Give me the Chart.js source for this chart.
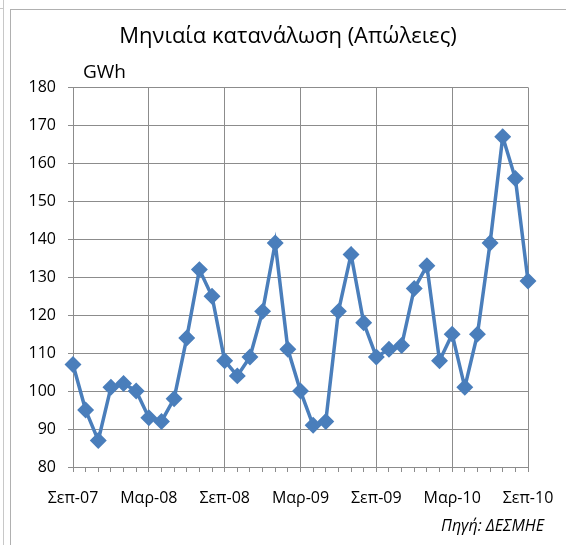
<!DOCTYPE html>
<html>
<head>
<meta charset="utf-8">
<script src="https://cdn.jsdelivr.net/npm/chart.js@4/dist/chart.umd.min.js"></script>
<style>
  html, body { margin: 0; padding: 0; background: #fff; }
  #wrap { position: relative; width: 566px; height: 545px; }
  #frame { position: absolute; left: 10px; top: 9px; width: 600px; height: 600px; border: 1px solid #b0b0b0; box-sizing: border-box; }
  #edge { position: absolute; left: 3px; top: 0; width: 1px; height: 545px; background: #c8c8c8; }
  #edgetop { position: absolute; left: 0; top: 8px; width: 4px; height: 1px; background: #c8c8c8; }
</style>
</head>
<body>
<div id="wrap">
  <div id="edge"></div>
  <div id="edgetop"></div>
  <div id="frame"></div>
  <canvas id="canvas1" width="566" height="545" style="position:absolute;left:0;top:0"></canvas>
</div>
<script>
// months Sep-07 .. Sep-10
const months = [
    'Σεπ-07','Οκτ-07','Νοε-07','Δεκ-07','Ιαν-08','Φεβ-08',
    'Μαρ-08','Απρ-08','Μαϊ-08','Ιουν-08','Ιουλ-08','Αυγ-08',
    'Σεπ-08','Οκτ-08','Νοε-08','Δεκ-08','Ιαν-09','Φεβ-09',
    'Μαρ-09','Απρ-09','Μαϊ-09','Ιουν-09','Ιουλ-09','Αυγ-09',
    'Σεπ-09','Οκτ-09','Νοε-09','Δεκ-09','Ιαν-10','Φεβ-10',
    'Μαρ-10','Απρ-10','Μαϊ-10','Ιουν-10','Ιουλ-10','Αυγ-10',
    'Σεπ-10'
];
const losses = [
    107, 95, 87, 101, 102, 100,
    93, 92, 98, 114, 132, 125,
    108, 104, 109, 121, 139, 111,
    100, 91, 92, 121, 136, 118,
    109, 111, 112, 127, 133, 108,
    115, 101, 115, 139, 167, 156,
    129
];
const yTicks = [80, 90, 100, 110, 120, 130, 140, 150, 160, 170, 180];

const FONT = "'Open Sans', sans-serif";
const GRID = '#8c8c8c';

const extraText = {
    id: 'extraText',
    afterDraw(chart) {
        const ctx = chart.ctx;
        const area = chart.chartArea;
        ctx.save();
        ctx.fillStyle = '#000';
        ctx.font = '19px ' + FONT;
        ctx.textBaseline = 'middle';
        ctx.textAlign = 'left';
        ctx.fillText('GWh', area.left + 10, 73);
        ctx.font = 'italic 16px ' + FONT;
        ctx.textAlign = 'right';
        ctx.fillText('Πηγή: ΔΕΣΜΗΕ', 544, 526);
        ctx.restore();
    }
};

const config = {
    type: 'line',
    data: {
        labels: months,
        datasets: [{
            label: 'Απώλειες',
            data: losses,
            borderColor: '#4a7ebb',
            backgroundColor: '#4a7ebb',
            borderWidth: 3.5,
            pointStyle: 'rectRot',
            pointRadius: 6,
            pointHoverRadius: 6,
            tension: 0
        }]
    },
    options: {
        responsive: false,
        animation: false,
        layout: { padding: { left: 10, right: 0, top: 0, bottom: 28 } },
        plugins: {
            legend: { display: false },
            tooltip: { enabled: false },
            title: {
                display: true,
                text: 'Μηνιαία κατανάλωση (Απώλειες)',
                color: '#000',
                font: { family: FONT, size: 22, weight: 'normal' },
                padding: { top: 24, bottom: 37 }
            }
        },
        scales: {
            x: {
                offset: false,
                afterFit: (scale) => {
                    scale.height = 50;
                    scale.paddingLeft = 0;
                    scale.paddingRight = 38;
                },
                border: { color: GRID, width: 1 },
                grid: {
                    offset: false,
                    color: (c) => (c.index % 6 === 0 ? GRID : 'rgba(0,0,0,0)'),
                    tickColor: GRID,
                    tickLength: 5,
                    lineWidth: 1
                },
                ticks: {
                    autoSkip: false,
                    maxRotation: 0,
                    padding: 17,
                    color: '#000',
                    font: { family: FONT, size: 16 },
                    callback: (v, i) => (i % 6 === 0 ? months[i] : '')
                }
            },
            y: {
                min: yTicks[0],
                max: yTicks[yTicks.length - 1],
                afterFit: (scale) => { scale.width = 63; },
                border: { color: GRID, width: 1 },
                grid: { color: GRID, tickColor: GRID, tickLength: 5, lineWidth: 1 },
                afterBuildTicks: (scale) => { scale.ticks = yTicks.map(v => ({ value: v })); },
                ticks: {
                    padding: 12,
                    color: '#000',
                    font: { family: FONT, size: 16 }
                }
            }
        }
    },
    plugins: [extraText]
};

new Chart(document.getElementById('canvas1'), config);
</script>
</body>
</html>
